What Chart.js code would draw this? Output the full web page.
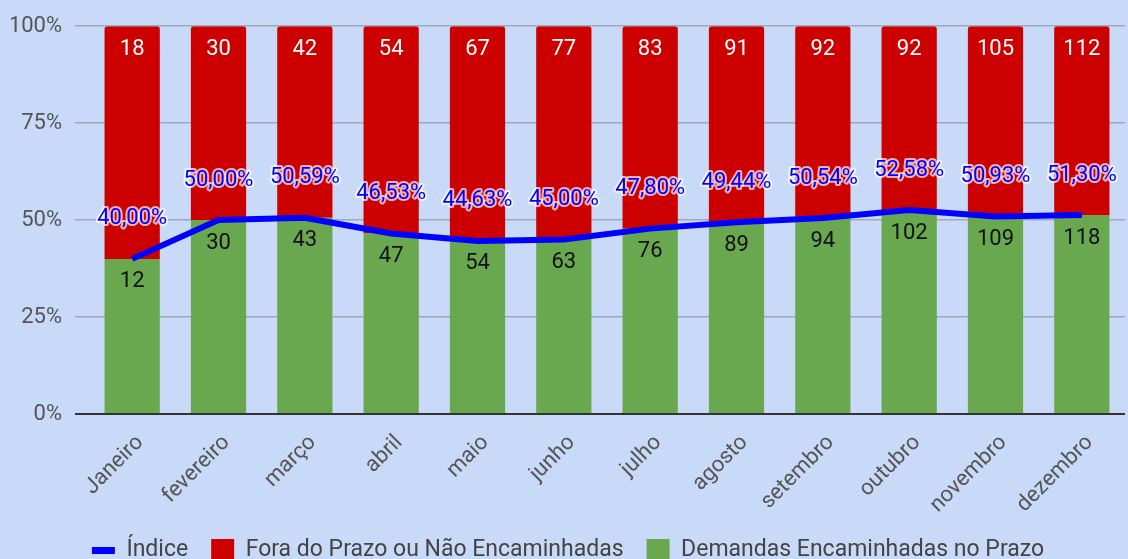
<!DOCTYPE html>
<html>
<head>
<meta charset="utf-8">
<script src="https://cdn.jsdelivr.net/npm/chart.js@4.4.1/dist/chart.umd.min.js"></script>
<style>
  html, body { margin: 0; padding: 0; background: #c9daf8; overflow: hidden; }
  #wrap { width: 1128px; height: 572px; position: relative; }
</style>
</head>
<body>
<div id="wrap"><canvas id="chart"></canvas></div>
<script>
// Data

const meses     = ['Janeiro', 'fevereiro', 'março', 'abril', 'maio', 'junho',
                   'julho', 'agosto', 'setembro', 'outubro', 'novembro', 'dezembro'];
const noPrazo   = [12, 30, 43, 47, 54, 63, 76, 89, 94, 102, 109, 118];
const foraPrazo = [18, 30, 42, 54, 67, 77, 83, 91, 92, 92, 105, 112];
const indice    = [40.00, 50.00, 50.59, 46.53, 44.63, 45.00, 47.80, 49.44, 50.54, 52.58, 50.93, 51.30];
const yTicks    = [0, 25, 50, 75, 100];
const yLabels   = ['0%', '25%', '50%', '75%', '100%'];

// 100% stacked shares, from the counts
const pctNoPrazo   = noPrazo.map((v, i) => v / (v + foraPrazo[i]) * 100);
const pctForaPrazo = foraPrazo.map((v, i) => v / (v + noPrazo[i]) * 100);

const FONT = 'Roboto';

const fmtPct = v => v.toFixed(2).replace('.', ',') + '%';

// Draws counts inside the bars and the index above the line
const valueLabels = {
  id: 'valueLabels',
  afterDatasetsDraw(chart) {
    const ctx = chart.ctx;
    ctx.save();
    ctx.textAlign = 'center';
    ctx.textBaseline = 'middle';
    chart.data.datasets.forEach((ds, di) => {
      const meta = chart.getDatasetMeta(di);
      meta.data.forEach((el, i) => {
        if (ds.type === 'line') {
          const txt = fmtPct(indice[i]);
          ctx.font = `22px ${FONT}`;
          ctx.lineJoin = 'round';
          ctx.lineWidth = 4;
          ctx.strokeStyle = 'rgba(255,255,255,0.7)';
          ctx.strokeText(txt, el.x, el.y - 40);
          ctx.fillStyle = '#0000ff';
          ctx.fillText(txt, el.x, el.y - 40);
        } else {
          ctx.font = `22px ${FONT}`;
          ctx.fillStyle = ds.labelColor;
          ctx.fillText(String(ds.counts[i]), el.x, el.y + 23);
        }
      });
    });
    ctx.restore();
  }
};

new Chart(document.getElementById('chart'), {
  data: {
    labels: meses,
    datasets: [
      {
        type: 'line',
        label: 'Índice',
        data: indice,
        stack: 'indice',
        order: 0,
        borderColor: '#0000ff',
        borderWidth: 6,
        tension: 0,
        borderJoinStyle: 'round',
        pointRadius: 0,
        pointHoverRadius: 0,
        pointBorderWidth: 7,
        pointBorderColor: '#0000ff',
        pointBackgroundColor: '#0000ff',
      },
      {
        type: 'bar',
        label: 'Fora do Prazo ou Não Encaminhadas',
        data: pctForaPrazo,
        counts: foraPrazo,
        labelColor: '#ffffff',
        order: 2,
        backgroundColor: '#cc0000',
        borderWidth: 0,
        borderRadius: { topLeft: 3, topRight: 3, bottomLeft: 0, bottomRight: 0 },
        borderSkipped: false,
      },
      {
        type: 'bar',
        label: 'Demandas Encaminhadas no Prazo',
        data: pctNoPrazo,
        counts: noPrazo,
        labelColor: '#111111',
        order: 1,
        backgroundColor: '#6aa84f',
        borderWidth: 0,
      },
    ],
  },
  options: {
    responsive: true,
    maintainAspectRatio: false,
    animation: false,
    layout: { padding: { left: 11, right: 3, top: 24, bottom: 0 } },
    datasets: {
      bar: { categoryPercentage: 0.64, barPercentage: 1 },
    },
    plugins: {
      tooltip: { enabled: false },
      legend: {
        position: 'bottom',
        labels: {
          usePointStyle: true,
          pointStyleWidth: 23,
          padding: 23,
          color: '#444444',
          font: { family: FONT, size: 23 },
          sort: (a, b) => a.datasetIndex - b.datasetIndex,
          generateLabels(chart) {
            const items = Chart.defaults.plugins.legend.labels.generateLabels(chart);
            items.forEach(it => {
              const ds = chart.data.datasets[it.datasetIndex];
              if (ds.type === 'line') {
                it.pointStyle = 'line';
                it.lineWidth = 7;
                it.strokeStyle = '#0000ff';
              } else {
                it.pointStyle = 'rect';
                it.lineWidth = 0;
                it.fillStyle = ds.backgroundColor;
              }
            });
            return items;
          },
        },
      },
    },
    scales: {
      x: {
        stacked: true,
        grid: { display: false },
        border: { display: false },
        // keep the rotated labels from pushing the plot area around
        afterFit: scale => {
          scale.paddingLeft = 0;
          scale.paddingRight = 0;
          scale.height = 102;
        },
        ticks: {
          minRotation: 45,
          maxRotation: 45,
          padding: 8,
          labelOffset: 8,
          color: '#555555',
          font: { family: FONT, size: 22 },
        },
      },
      y: {
        stacked: true,
        min: 0,
        max: 100,
        border: { display: false },
        afterBuildTicks: scale => { scale.ticks = yTicks.map(v => ({ value: v })); },
        afterFit: scale => { scale.width = 78; },
        grid: {
          color: c => (c.tick && c.tick.value === 0 ? '#333333' : '#9ea8bb'),
          lineWidth: c => (c.tick && c.tick.value === 0 ? 2 : 1.5),
          drawTicks: true,
          tickLength: 14,
        },
        ticks: {
          padding: 13,
          color: '#555555',
          font: { family: FONT, size: 22 },
          callback: v => yLabels[yTicks.indexOf(v)],
        },
      },
    },
  },
  plugins: [valueLabels],
});
</script>
</body>
</html>
